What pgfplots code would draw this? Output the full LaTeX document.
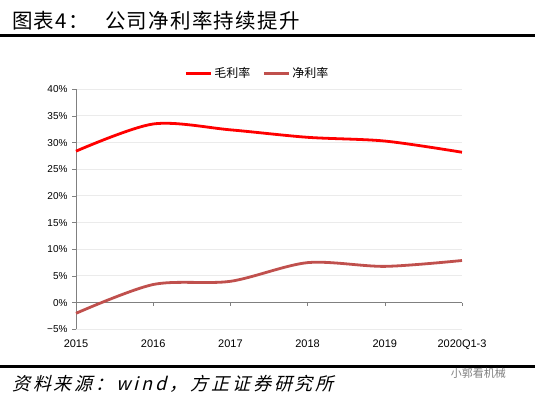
\documentclass[border=0pt]{standalone}
\usepackage{pgfplots}
\pgfplotsset{compat=1.18}
\usepackage{fontspec}
\setmainfont{Liberation Sans}
\newfontfamily\cjk{Noto Sans CJK SC}
\newfontfamily\cjkit[FakeSlant=0.25, LetterSpace=16]{Noto Sans CJK SC}
\newfontfamily\cjkt[LetterSpace=6]{Noto Sans CJK SC}
\definecolor{gm}{HTML}{FF0000}
\definecolor{nm}{HTML}{C0504D}
\begin{document}
\begin{tikzpicture}
\path[use as bounding box] (0,0) rectangle (535pt,-397pt);
\node[anchor=base west, inner sep=0pt, font=\cjkt\fontsize{20.5}{24}\selectfont] at (12pt,-28pt) {图表4：\hspace{0.8em}公司净利率持续提升};
\draw[line width=3pt] (0,-35pt) -- (535pt,-35pt);
\draw[line width=3pt] (0,-366pt) -- (535pt,-366pt);
\node[anchor=base west, inner sep=0pt, font=\cjkit\fontsize{18}{22}\selectfont] at (12pt,-390pt) {资料来源：wind，方正证券研究所};
\node[anchor=base east, inner sep=0pt, text=gray, font=\cjk\fontsize{11}{13}\selectfont] at (506pt,-377pt) {小郭看机械};
\begin{axis}[
  at={(76pt,-329.3pt)}, anchor=south west,
  scale only axis, width=386pt, height=240pt,
  xmin=0, xmax=5, ymin=-5, ymax=40,
  xtick={0,1,2,3,4,5},
  xticklabels={2015,2016,2017,2018,2019,2020Q1-3},
  ytick={-5,0,5,10,15,20,25,30,35,40},
  yticklabels={−5\%,0\%,5\%,10\%,15\%,20\%,25\%,30\%,35\%,40\%},
  axis line style={draw=none},
  xtick style={draw=none},
  ytick style={draw=gray, line width=0.6pt},
  ytick pos=left, xtick pos=bottom,
  tick align=outside, major tick length=4pt,
  ymajorgrids, grid style={line width=1pt, color=black!8},
  yticklabel style={font=\fontsize{10}{12}\selectfont, xshift=-1pt},
  xticklabel style={font=\fontsize{11}{13}\selectfont, yshift=-3pt},
  clip=false,
  legend style={at={(0.47,1.067)}, anchor=center, draw=none, fill=none,
    legend columns=2, font=\cjk\fontsize{12}{14}\selectfont,
    /tikz/every even column/.append style={column sep=10pt}},
  legend image code/.code={\draw[#1, line width=3pt] (0pt,0pt) -- (25pt,0pt);},
]
\draw[gray, line width=0.6pt] (rel axis cs:0,0) -- (rel axis cs:0,1);
\draw[gray, line width=0.8pt] (axis cs:0,0) -- (axis cs:5,0);
\pgfplotsinvokeforeach{1,2,3,4,5}{\draw[gray, line width=0.6pt] (axis cs:#1,0) -- ([yshift=-3pt]axis cs:#1,0);}
\addplot[gm, line width=2.8pt, smooth, no marks] coordinates {
(0,28.4) (1,33.5) (2,32.4) (3,31.0) (4,30.3) (5,28.2)};
\addlegendentry{毛利率}
\addplot[nm, line width=2.8pt, smooth, no marks] coordinates {
(0,-2.0) (1,3.4) (2,4.0) (3,7.5) (4,6.8) (5,7.9)};
\addlegendentry{净利率}
\end{axis}
\end{tikzpicture}
\end{document}
